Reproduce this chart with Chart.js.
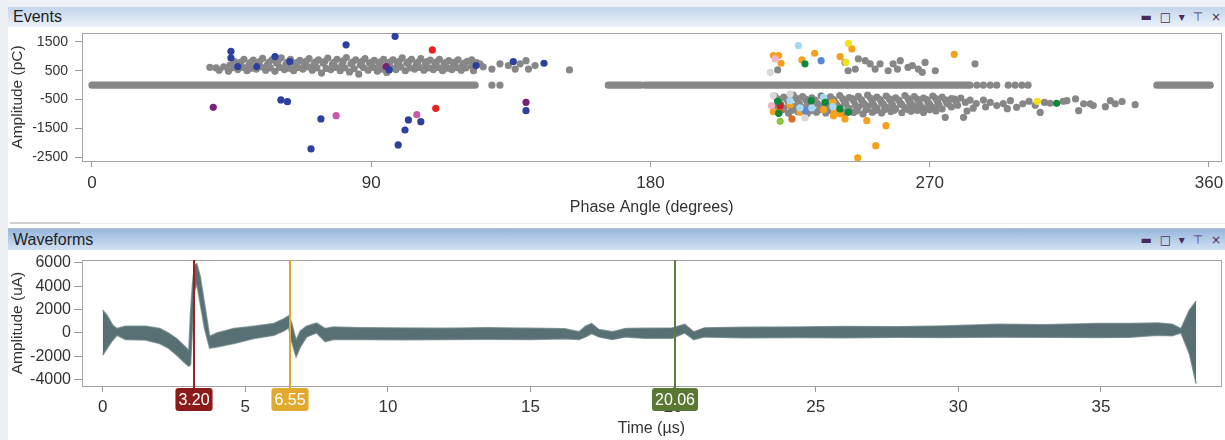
<!DOCTYPE html>
<html>
<head>
<meta charset="utf-8">
<script src="https://cdn.jsdelivr.net/npm/chart.js@4.4.1/dist/chart.umd.min.js"></script>
<style>
  body { margin: 0; width: 1225px; height: 440px; overflow: hidden; background: #eef1f4;
         font-family: "Liberation Sans", Arial, Helvetica, sans-serif; position: relative; }
  .hdr { position: absolute; left: 8px; width: 1217px; box-sizing: border-box; padding-left: 5px;
         font-size: 16px; color: #222; }
  .hdr .ic { position: absolute; right: 2px; top: 0; font-size: 12px; color: #4a2a58; letter-spacing: 2px;
             font-family: "DejaVu Sans", sans-serif; }
  .pane { position: absolute; left: 8px; width: 1217px; background: #fff; }
  canvas { display: block; }
</style>
</head>
<body>
<div class="hdr" style="top:7px;height:20px;line-height:20px;background:linear-gradient(#c2d5ec,#ecf2f9);">Events<span class="ic">▬ □ ▾ ⊤ ×</span></div>
<div class="pane" style="top:27px;height:190px;"><canvas id="events" width="1217" height="190"></canvas></div>
<div class="pane" style="top:217px;height:12px;">
  <div style="position:absolute;left:2px;top:5px;width:70px;height:2px;background:#cfcfcf;"></div>
  <div style="position:absolute;left:72px;top:6px;right:0;height:1px;background:#ededed;"></div>
</div>
<div class="hdr" style="top:228px;height:22px;line-height:22px;border-top:1px solid #b9c3ce;background:linear-gradient(#97b6de,#d2e1f3);">Waveforms<span class="ic">▬ □ ▾ ⊤ ×</span></div>
<div class="pane" style="top:250px;height:190px;"><canvas id="waves" width="1217" height="190"></canvas></div>

<script>
// ---- Events (phase resolved) : [phase deg, amplitude pC]
var eventXTicks = [0, 90, 180, 270, 360];
var eventYTicks = [1500, 1000, 500, 0, -500, -1000, -1500, -2000, -2500];
var eventYLabels = [1500, 500, -500, -1500, -2500];

// dense gray row sitting on zero: [start, end] of each run, and lone dots
var zeroRuns = [[0, 123.5], [166.4, 176.9], [178.3, 283], [343.2, 360.4]];
var zeroDots = [128.9, 131.5, 285.2, 287.3, 289.5, 291.6, 295.3, 297.5, 299.7, 301.7];

var grayUpperBand = [
  [38,620],[40,600],[41,520],[42.5,640],[44,480],[44.5,700],[46,820],[47,540],[47.5,720],[49,900],
  [50,500],[50.5,680],[52,870],[53,560],[53.5,740],[55,930],[56,520],[56.5,700],[58,880],[59,480],
  [59.5,760],[61,950],[62,540],[62.5,720],[64,900],[65,500],[65.5,680],[67,860],[68,560],[68.5,740],
  [70,920],[71,520],[71.5,700],[73,880],[74,420],[74.5,760],[76,940],[77,540],[77.5,720],[79,900],
  [80,500],[80.5,680],[82,960],[83,460],[83.5,740],[85,880],[86,380],[86.5,700],[88,920],[89,520],
  [89.5,760],[91,860],[92,480],[92.5,700],[94,900],[95,440],[95.5,740],[97,880],[98,540],[98.5,720],
  [100,950],[101,500],[101.5,760],[103,900],[104,560],[104.5,700],[106,920],[107,520],[107.5,740],[109,870],
  [110,540],[110.5,690],[112,900],[113,500],[113.5,720],[115,850],[116,540],[116.5,680],[118,880],[119,520],
  [119.5,700],[121,830],[122.4,880],[122.5,660],[123,500],[125,740],[126.1,640],
  [48,800],[51,780],[54,820],[57,790],[60,840],[63,800],[66,780],[69,830],[72,800],[75,820],[78,790],
  [81,840],[84,800],[87,820],[90,790],[93,810],[96,800],[99,830],[102,810],[105,790],[108,820],[111,800],
  [114,780],[117,800],[120,770],[124,780],
  [45,600],[48.5,620],[51.5,590],[54.5,630],[57.5,600],[60.5,620],[63.5,590],[66.5,610],[69.5,640],
  [72.5,600],[75.5,580],[78.5,620],[81.5,600],[84.5,570],[87.5,610],[90.5,620],[93.5,560],[96.5,600],
  [99.5,630],[102.5,600],[105.5,620],[108.5,600],[111.5,610],[114.5,590],[117.5,610],[120.5,600],
  [128.9,560],[131.5,740],[134.2,680],[136.4,560],[138,740],[139.9,850],[140.7,560],[142.8,680],[153.9,530]
];
var grayRightUpper = [
  [221,530],[242.7,790],[243.7,500],[246,560],[247,910],[249.2,850],[250.8,740],[252.4,560],[254,740],
  [256.6,500],[258.2,740],[259.6,560],[260.5,850],[263,620],[264.4,680],[266.3,560],[267.6,445],
  [268.5,790],[271.8,500],[284.6,740]
];
var grayLowerBand = [
  [220,-380],[223,-420],[226,-350],[229,-400],[232,-440],[235,-370],[238,-410],[241,-360],[244,-430],[247,-390],
  [250,-350],[253,-420],[256,-380],[259,-440],[262,-360],[265,-400],[268,-450],[271,-380],[274,-420],[277,-470],
  [221,-480],[224,-500],[227,-460],[230,-490],[233,-520],[236,-470],[239,-500],[242,-480],[245,-470],[248,-510],
  [251,-460],[254,-500],[257,-480],[260,-520],[263,-470],[266,-490],[269,-500],[272,-470],[275,-510],[278,-490],
  [280,-450],
  [221.5,-560],[224.5,-600],[227.5,-540],[230.5,-590],[233.5,-620],[236.5,-560],[239.5,-600],[242.5,-580],
  [245.5,-540],[248.5,-610],[251.5,-570],[254.5,-600],[257.5,-550],[260.5,-620],[263.5,-580],[266.5,-540],
  [269.5,-600],[272.5,-570],[275.5,-620],[278.5,-560],[281.5,-600],
  [222,-670],[225,-700],[228,-650],[231,-690],[234,-660],[237,-700],[240,-680],[243,-650],[246,-690],[249,-670],
  [252,-700],[255,-660],[258,-690],[261,-680],[264,-650],[267,-700],[270,-670],[273,-690],[276,-660],[279,-700],
  [220,-760],[223,-800],[226,-740],[229,-780],[232,-820],[235,-750],[238,-790],[241,-760],[244,-810],[247,-770],
  [250,-740],[253,-800],[256,-760],[259,-820],[262,-780],[265,-740],[268,-800],[271,-770],[274,-830],[277,-760],
  [222.5,-860],[225.5,-880],[228.5,-850],[231.5,-890],[234.5,-860],[237.5,-880],[240.5,-850],[243.5,-870],
  [246.5,-890],[249.5,-860],[252.5,-880],[255.5,-850],[258.5,-870],[263,-850],[266,-880],[270,-860],
  [221.5,-950],[224.5,-980],[227.5,-930],[230.5,-990],[233.5,-940],[236.5,-970],[239.5,-920],[242.5,-980],
  [245.5,-950],[248.5,-1000],[251.5,-940],[254.5,-970],[257.5,-920],[261,-960],[264,-910],[268,-950],
  [272,-900],[275,-1120],[280.9,-1120],
  [283,-520],[285,-640],[287.3,-520],[289.5,-600],[291.6,-710],[293.7,-640],[296,-540],[298,-770],[300,-650],
  [302,-560],[304,-700],[305.6,-950],[307,-600],[308.8,-630],[313,-560],[314.2,-540],[317,-480],[318,-890],
  [319.6,-650],[321.7,-650],[322.7,-710],[326.6,-750],[328.2,-540],[329.8,-650],[332,-570],[336.2,-680],
  [284,-800],[288,-760],[295,-820],[282,-900]
];

var bluePts = [[44.8,1176],[44.8,946],[47,644],[53.1,644],[59,992],[63.8,818],[60.9,-515],[63,-574],[73.8,-1176],
  [70.6,-2220],[81.9,1400],[97.7,1698],[95.8,530],[102,-1212],[100.9,-1560],[106,-1270],[98.7,-2080],
  [123.8,680],[135.8,818],[145.7,760],[139.9,-888]];
var purplePts = [[39.1,-772],[94.8,644],[139.9,-598]];
var magentaPts = [[78.7,-1061],[104.7,-1027]];
var redPts = [[109.7,1225],[110.8,-807]];
var orangePts = [[219.6,1027],[221.3,1027],[222.1,760],[228.8,877],[232.9,1108],[241.1,992],[244.9,1258],
  [277.9,1070],[219.6,-922],[225,-679],[228.2,-946],[238.8,-598],[241.1,-1002],[235.8,-853],[249.7,-1235],
  [255.9,-1409],[252.6,-2105],[246.8,-2533],[239.3,-946],[239,-1061],[242.7,-1176]];
var yellowPts = [[243.8,1455],[243,793],[304.7,-564]];
var greenPts = [[229.8,740],[221,-564],[221.3,-981],[231.8,-540],[241.1,-828],[243.8,-946],[236.3,-598],[310.9,-633]];
var lightBluePts = [[227.7,1375],[225,-540],[235.8,-424],[238.8,-748],[228.2,-794],[232,-794]];
var steelBluePts = [[235,850],[229.8,-887]];
var pinkPts = [[220.2,910],[219,-713]];
var lightGrayPts = [[218.6,445],[219.6,-365],[225,-306],[229.8,-1141]];
var darkRedPts = [[221.8,-713]];
var darkOrangePts = [[221.8,-828],[225.6,-1176]];
var lightGreenPts = [[221.8,-1260]];

// ---- Waveforms : envelope of the overlaid traces
var waveXTicks = [0, 5, 10, 15, 20, 25, 30, 35];
var waveYTicks = [6000, 4000, 2000, 0, -2000, -4000];
var waveTimes = [0, 0.15, 0.35, 0.5, 0.8, 1.5, 2.0, 2.3, 2.6, 2.9, 3.02, 3.08, 3.15, 3.22, 3.3, 3.42, 3.57, 3.75,
  4.0, 4.6, 5.3, 6.0, 6.35, 6.52, 6.62, 6.78, 6.93, 7.15, 7.5, 7.8, 8.1, 9.0, 10.5, 12.0, 13.5, 15.0, 16.2, 16.7,
  16.93, 17.14, 17.4, 17.87, 18.34, 19.0, 19.97, 20.41, 20.72, 21.1, 22.5, 24.4, 26.0, 27.9, 29.5, 31.4, 33.0,
  34.9, 36.0, 37.0, 37.5, 37.81, 38.1, 38.34];
var waveUpper = [1940, 1510, 660, 370, 570, 570, 370, 0, -500, -1200, -1500, 1700, 4200, 5800, 5900, 4800, 2500,
  -300, 0, 370, 570, 800, 1200, 1450, 900, -620, 170, 570, 850, 370, 510, 450, 420, 400, 430, 400, 350, 90, 570,
  800, 290, 90, 370, 400, 420, 740, 90, 430, 480, 510, 550, 520, 600, 740, 700, 800, 800, 850, 750, 370, 1940, 2710];
var waveLower = [-1900, -1340, -620, -200, -570, -600, -910, -1300, -1900, -2620, -2850, -2700, 700, 3600, 4200,
  2500, 400, -1300, -1200, -910, -480, -200, 170, 450, -700, -2050, -1200, -340, 0, -740, -570, -560, -580, -560,
  -550, -560, -500, -570, -340, -60, -340, -570, -340, -450, -450, 0, -570, -340, -420, -400, -420, -380, -400,
  -340, -380, -400, -380, -200, -250, 0, -1770, -4330];

var markerTimes = [3.20, 6.55, 20.06];
var markerLineColors = ['#a31f1f', '#e2a628', '#5e7c3a'];
var markerBoxColors = ['#8b1a1a', '#e1aa2e', '#5a7834'];

// ------------------------------------------------------------------
var FONT = '"Liberation Sans", Arial, Helvetica, sans-serif';
var GRAY = '#878787';
Chart.defaults.font.family = FONT;
Chart.defaults.color = '#333';

function pts(arr) { return arr.map(function (p) { return {x: p[0], y: p[1]}; }); }
function dots(arr, color) {
  return {data: pts(arr), backgroundColor: color, borderWidth: 0, pointRadius: 3.6, pointHoverRadius: 3.6};
}
// fixed axis sizes, no extra room for edge labels
function fixWidth(w) {
  return function (s) { s.width = w; s.paddingTop = 0; s.paddingBottom = 0; s.paddingLeft = 0; s.paddingRight = 0; };
}
function fixHeight(h) {
  return function (s) { s.height = h; s.paddingTop = 0; s.paddingBottom = 0; s.paddingLeft = 0; s.paddingRight = 0; };
}

// draws the box round the plot area
var framePlugin = {
  id: 'frame',
  beforeDatasetsDraw: function (chart) {
    var a = chart.chartArea, ctx = chart.ctx;
    ctx.save();
    ctx.strokeStyle = '#a4a4a4';
    ctx.lineWidth = 1;
    ctx.strokeRect(Math.round(a.left) + 0.5, Math.round(a.top) + 0.5,
      Math.round(a.right - a.left), Math.round(a.bottom - a.top));
    ctx.restore();
  }
};

// cursor lines with their value tags under the axis
var markerPlugin = {
  id: 'markers',
  afterDatasetsDraw: function (chart) {
    var ctx = chart.ctx, a = chart.chartArea, x = chart.scales.x;
    markerTimes.forEach(function (t, i) {
      var px = Math.round(x.getPixelForValue(t));
      var label = t.toFixed(2);
      ctx.save();
      ctx.font = '16px ' + FONT;
      var w = ctx.measureText(label).width + 6, h = 23, top = a.bottom + 2;
      ctx.strokeStyle = markerLineColors[i];
      ctx.lineWidth = 2;
      ctx.beginPath();
      ctx.moveTo(px, a.top);
      ctx.lineTo(px, top + 1);
      ctx.stroke();
      ctx.fillStyle = markerBoxColors[i];
      ctx.beginPath();
      ctx.roundRect(px - w / 2, top, w, h, 3);
      ctx.fill();
      ctx.fillStyle = '#fff';
      ctx.textAlign = 'center';
      ctx.textBaseline = 'middle';
      ctx.fillText(label, px, top + h / 2 + 1);
      ctx.restore();
    });
  }
};

// ---- top chart
var zeroLine = [];
zeroRuns.forEach(function (r) {
  zeroLine.push({x: r[0], y: 0}, {x: r[1], y: 0}, {x: r[1], y: null});
});

new Chart(document.getElementById('events'), {
  type: 'scatter',
  data: {
    datasets: [
      dots(yellowPts, '#f1e21c'),
      dots(greenPts, '#0c8a3b'),
      dots(darkRedPts, '#c4232b'),
      dots(darkOrangePts, '#dc6a22'),
      dots(lightGreenPts, '#8cc63f'),
      dots(lightBluePts, '#a6d9f0'),
      dots(steelBluePts, '#5b87d6'),
      dots(pinkPts, '#f4b4c7'),
      dots(orangePts, '#f6a11d'),
      dots(lightGrayPts, '#d9d9d9'),
      dots(bluePts, '#2d3f9f'),
      dots(purplePts, '#7a1f78'),
      dots(magentaPts, '#c85aa8'),
      dots(redPts, '#ee2020'),
      dots(grayUpperBand, GRAY),
      dots(grayRightUpper, GRAY),
      dots(grayLowerBand, GRAY),
      dots(zeroDots.map(function (d) { return [d, 0]; }), GRAY),
      {type: 'line', data: zeroLine, showLine: true, spanGaps: false, borderColor: GRAY, borderWidth: 7.2,
       borderCapStyle: 'round', pointRadius: 0}
    ]
  },
  options: {
    responsive: false,
    animation: false,
    devicePixelRatio: 1,
    layout: {padding: {top: 6, right: 3.5, left: 0, bottom: 0}},
    plugins: {legend: {display: false}, tooltip: {enabled: false}},
    scales: {
      x: {
        type: 'linear', min: -3.2, max: 364,
        afterBuildTicks: function (s) { s.ticks = eventXTicks.map(function (v) { return {value: v}; }); },
        afterFit: fixHeight(56),
        grid: {drawOnChartArea: false, tickLength: 6, tickColor: '#9a9a9a'},
        border: {color: '#a4a4a4'},
        ticks: {font: {size: 17}, padding: 6, maxRotation: 0, color: '#333'},
        title: {display: true, text: 'Phase Angle (degrees)', font: {size: 16}, padding: 0, color: '#333'}
      },
      y: {
        min: -2639, max: 1813,
        afterBuildTicks: function (s) { s.ticks = eventYTicks.map(function (v) { return {value: v}; }); },
        afterFit: fixWidth(74),
        grid: {drawOnChartArea: false, tickLength: 7, tickColor: '#9a9a9a'},
        border: {color: '#a4a4a4'},
        ticks: {font: {size: 14}, padding: 7, color: '#333',
          callback: function (v) { return eventYLabels.indexOf(v) >= 0 ? String(v) : ''; }},
        title: {display: true, text: 'Amplitude (pC)', font: {size: 15.5}, padding: 0, color: '#333'}
      }
    }
  },
  plugins: [framePlugin]
});

// ---- bottom chart
function wave(values) {
  return waveTimes.map(function (t, i) { return {x: t, y: values[i]}; });
}

new Chart(document.getElementById('waves'), {
  type: 'line',
  data: {
    datasets: [
      {data: wave(waveUpper), borderColor: 'rgba(100,124,127,0.75)', borderWidth: 1.5, pointRadius: 0,
       fill: false, tension: 0},
      {data: wave(waveLower), borderColor: 'rgba(100,124,127,0.75)', borderWidth: 1.5, pointRadius: 0,
       fill: '-1', backgroundColor: '#587073', tension: 0}
    ]
  },
  options: {
    responsive: false,
    animation: false,
    devicePixelRatio: 1,
    layout: {padding: {top: 10, right: 4.3, left: 0, bottom: 0}},
    plugins: {legend: {display: false}, tooltip: {enabled: false}},
    scales: {
      x: {
        type: 'linear', min: -0.726, max: 39.2,
        afterBuildTicks: function (s) { s.ticks = waveXTicks.map(function (v) { return {value: v}; }); },
        afterFit: fixHeight(54),
        grid: {drawOnChartArea: false, tickLength: 6, tickColor: '#9a9a9a'},
        border: {color: '#a4a4a4'},
        ticks: {font: {size: 17}, padding: 5, maxRotation: 0, color: '#333'},
        title: {display: true, text: 'Time (µs)', font: {size: 16}, padding: {top: 0, bottom: 1.5}, color: '#333'}
      },
      y: {
        min: -4538, max: 6231,
        afterBuildTicks: function (s) { s.ticks = waveYTicks.map(function (v) { return {value: v}; }); },
        afterFit: fixWidth(74),
        grid: {drawOnChartArea: false, tickLength: 8, tickColor: '#9a9a9a'},
        border: {color: '#a4a4a4'},
        ticks: {font: {size: 16}, padding: 3, color: '#333', callback: function (v) { return String(v); }},
        title: {display: true, text: 'Amplitude (uA)', font: {size: 15.5}, padding: 0, color: '#333'}
      }
    }
  },
  plugins: [framePlugin, markerPlugin]
});
</script>
</body>
</html>
